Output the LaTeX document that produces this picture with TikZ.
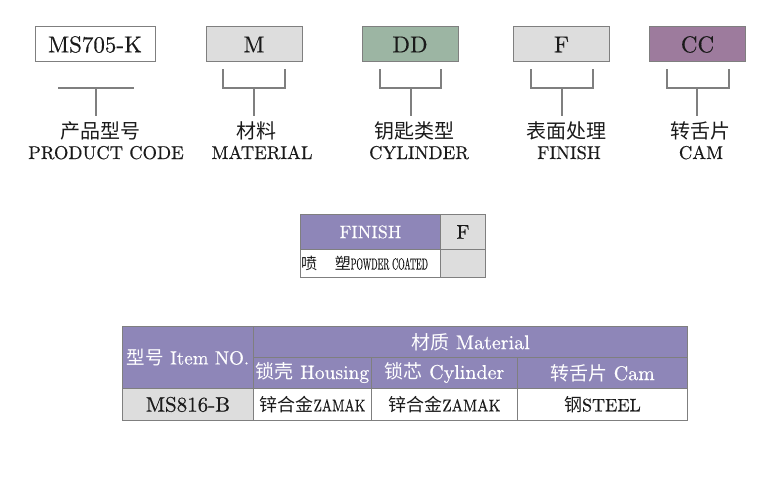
\documentclass[tikz,border=0pt]{standalone}
\usepackage{fontspec}
\usepackage{graphicx}
\setmainfont{lmroman10-regular.otf}[FakeBold=0.4]
\newfontfamily\cjk{Noto Sans CJK SC}
\usetikzlibrary{positioning}

\definecolor{ddGreen}{HTML}{9CB5A3}
\definecolor{ccPurple}{HTML}{9D7B9D}
\definecolor{tabPurple}{HTML}{8E86B8}
\definecolor{cellGrey}{HTML}{DDDDDD}
\definecolor{lineGrey}{HTML}{7F7F7F}
\definecolor{inkBlack}{HTML}{1A1A1A}

\newcommand{\zh}[1]{{\cjk #1}}

\tikzset{
  codebox/.style={draw=lineGrey, line width=1pt, minimum width=96pt, minimum height=35pt,
    inner sep=0pt, text=inkBlack, font=\fontsize{23}{23}\selectfont},
  brace/.style={draw=lineGrey, line width=1.3pt},
  cnlabel/.style={anchor=base, inner sep=0pt, text=inkBlack, font=\cjk\fontsize{20}{20}\selectfont},
  enlabel/.style={anchor=base, inner sep=0pt, text=inkBlack, font=\fontsize{18.5}{18.5}\selectfont},
  cell/.style={draw=lineGrey, line width=0.9pt, inner sep=0pt, anchor=north west},
  headtext/.style={text=white, font=\fontsize{20}{20}\selectfont},
  celltext/.style={text=inkBlack, font=\fontsize{20}{20}\selectfont},
}

\begin{document}
\begin{tikzpicture}[x=1pt,y=-1pt]
  \useasboundingbox (0,0) rectangle (778,500);

  % code boxes
  \node[codebox, minimum width=120pt, fill=white] (PC) at (95,44.5) {MS705-K};
  \node[codebox, fill=cellGrey] (MA) at (254,44.5) {M};
  \node[codebox, fill=ddGreen] (CY) at (410,44.5) {DD};
  \node[codebox, fill=cellGrey] (FI) at (561.5,44.5) {F};
  \node[codebox, fill=ccPurple] (CA) at (697.5,44.5) {CC};

  % labels under the boxes
  \node[cnlabel] (PCcn) at (100,138) {产品型号};
  \node[enlabel] (PCen) at (106,159) {PRODUCT CODE};
  \node[cnlabel] (MAcn) at (256,138) {材料};
  \node[enlabel] (MAen) at (262,159) {MATERIAL};
  \node[cnlabel] (CYcn) at (414,138) {钥匙类型};
  \node[enlabel] (CYen) at (419,159) {CYLINDER};
  \node[cnlabel] (FIcn) at (566,138) {表面处理};
  \node[enlabel] (FIen) at (569,159) {FINISH};
  \node[cnlabel] (CAcn) at (700,138) {转舌片};
  \node[enlabel] (CAen) at (701,159) {CAM};

  \coordinate (PCj) at (96,88);
  \coordinate (MAj) at (254,88);
  \coordinate (CYj) at (411,88);
  \coordinate (FIj) at (562,88);
  \coordinate (CAj) at (697,88);

  \draw[brace] ([xshift=-38pt]PCj) -- ([xshift=38pt]PCj);
  \draw[brace] ([xshift=-31pt,yshift=-7pt]MA.south) |- (MAj) -| ([xshift=31pt,yshift=-7pt]MA.south);
  \draw[brace] ([xshift=-30pt,yshift=-7pt]CY.south) |- (CYj) -| ([xshift=31pt,yshift=-7pt]CY.south);
  \draw[brace] ([xshift=-30.5pt,yshift=-7pt]FI.south) |- (FIj) -| ([xshift=31.5pt,yshift=-7pt]FI.south);
  \draw[brace] ([xshift=-30.5pt,yshift=-7pt]CA.south) |- (CAj) -| ([xshift=31.5pt,yshift=-7pt]CA.south);

  \draw[brace, shorten >=5pt] (PCj) -- (PCj |- PCcn.north);
  \draw[brace, shorten >=5pt] (MAj) -- (MAj |- MAcn.north);
  \draw[brace, shorten >=5pt] (CYj) -- (CYj |- CYcn.north);
  \draw[brace, shorten >=5pt] (FIj) -- (FIj |- FIcn.north);
  \draw[brace, shorten >=5pt] (CAj) -- (CAj |- CAcn.north);

  % finish table
  \node[cell, fill=tabPurple, minimum width=140pt, minimum height=35pt, headtext, font=\fontsize{18}{18}\selectfont] (finH) at (300,214) {FINISH};
  \node[cell, fill=cellGrey, minimum width=45pt, minimum height=35pt, celltext] (finF) at (440,214) {F};
  \node[cell, fill=white, minimum width=140pt, minimum height=28pt] (finR) at (300,249) {};
  \node[cell, fill=cellGrey, minimum width=45pt, minimum height=28pt] (finE) at (440,249) {};
  \node[anchor=west, inner sep=0pt, text=inkBlack, font=\fontsize{16}{16}\selectfont] (finT) at ([xshift=1pt]finR.west)
    {\zh{喷\hspace{1.1em}塑}\scalebox{0.52}[1]{POWDER COATED}};

  % item table
  \node[cell, fill=tabPurple, minimum width=131pt, minimum height=62pt, headtext, font=\fontsize{19}{19}\selectfont] (itemNo) at (122,326) {\zh{\fontsize{18.5}{18.5}\selectfont 型号} Item NO.};
  \node[cell, fill=tabPurple, minimum width=434pt, minimum height=31pt, headtext] (matH) at (253,326) {\zh{\fontsize{19}{19}\selectfont 材质} Material};
  \node[cell, fill=tabPurple, minimum width=118pt, minimum height=31pt, headtext, font=\fontsize{19.5}{19.5}\selectfont] (housH) at (253,357) {\zh{\fontsize{19}{19}\selectfont 锁壳} Housing};
  \node[cell, fill=tabPurple, minimum width=146pt, minimum height=31pt, headtext] (cylH) at (371,357) {\zh{\fontsize{19}{19}\selectfont 锁芯} Cylinder};
  \node[cell, fill=tabPurple, minimum width=170pt, minimum height=31pt, headtext] (camH) at (517,357) {\zh{\fontsize{19}{19}\selectfont 转舌片} Cam};

  \node[cell, fill=cellGrey, minimum width=131pt, minimum height=32pt, celltext, font=\fontsize{21}{21}\selectfont] (itemV) at (122,388) {MS816-B};
  \node[cell, fill=white, minimum width=118pt, minimum height=32pt, celltext] (housV) at (253,388)
    {\zh{\fontsize{18}{18}\selectfont 锌合金}\scalebox{0.8}[1]{\fontsize{17}{17}\selectfont ZAMAK}};
  \node[cell, fill=white, minimum width=146pt, minimum height=32pt, celltext] (cylV) at (371,388)
    {\zh{\fontsize{18}{18}\selectfont 锌合金}\scalebox{0.9}[1]{\fontsize{17}{17}\selectfont ZAMAK}};
  \node[cell, fill=white, minimum width=170pt, minimum height=32pt, celltext] (camV) at (517,388)
    {\zh{\fontsize{18}{18}\selectfont 钢}{\fontsize{18}{18}\selectfont STEEL}};
\end{tikzpicture}
\end{document}
